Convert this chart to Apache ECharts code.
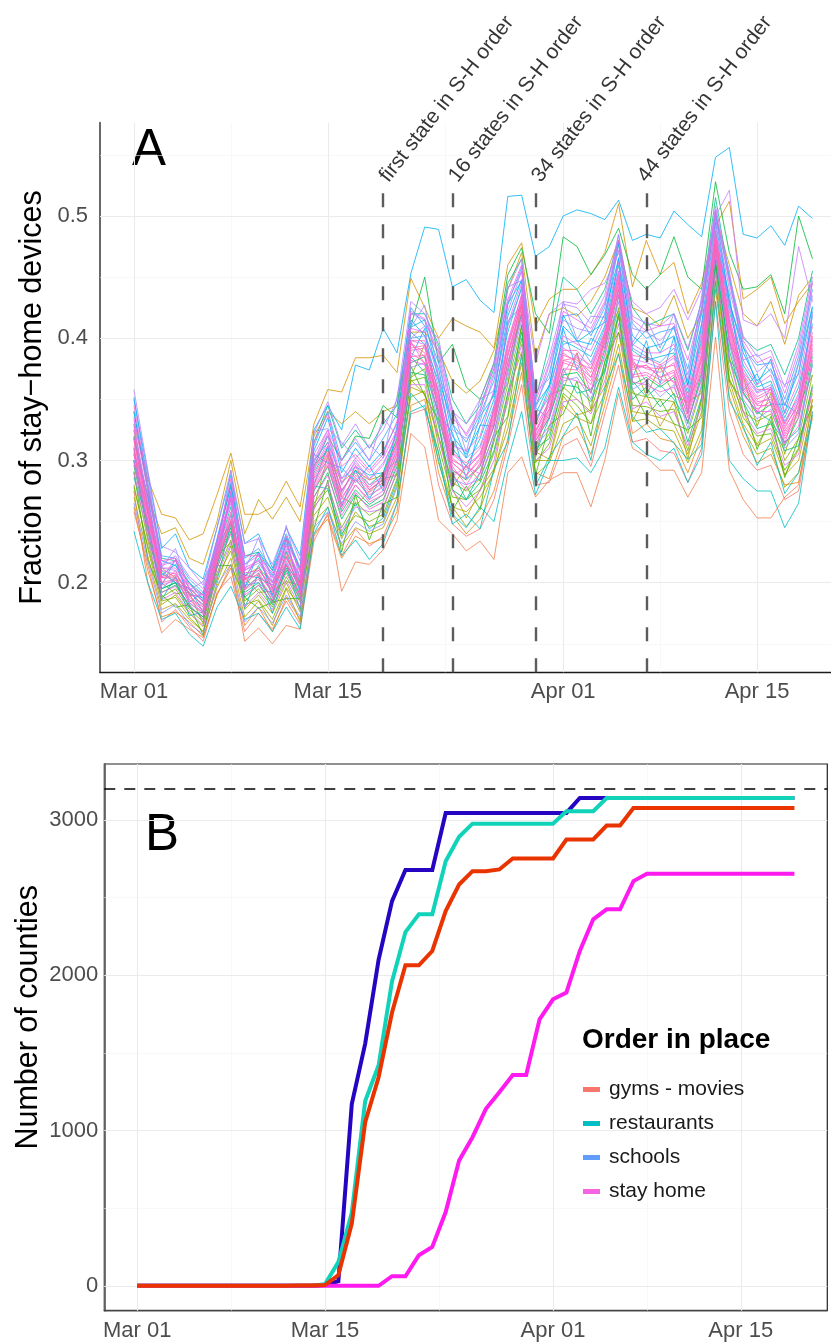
<!DOCTYPE html>
<html>
<head>
<meta charset="utf-8">
<script src="https://cdn.jsdelivr.net/npm/echarts@6/dist/echarts.min.js"></script>
<style>
html,body{margin:0;padding:0;background:#fff;}
#chart{width:831px;height:1343px;}
</style>
</head>
<body>
<div id="chart"></div>
<script>
// days since 2020-03-01
const dayNumbers = [0,1,2,3,4,5,6,7,8,9,10,11,12,13,14,15,16,17,18,19,20,21,22,23,24,25,26,27,28,29,30,31,32,33,34,35,36,37,38,39,40,41,42,43,44,45,46,47,48,49];
const tickDays = [0,14,31,45];
const tickLabels = ['Mar 01','Mar 15','Apr 01','Apr 15'];
const minorDays = [7,22.5,38];
const yTicksA = [0.2,0.3,0.4,0.5];
const yMinorA = [0.15,0.25,0.35,0.45,0.55];
const yTicksB = [0,1000,2000,3000];
const yMinorB = [500,1500,2500];
const eventDays = [18,23,29,37];
const eventLabels = ['first state in S-H order','16 states in S-H order','34 states in S-H order','44 states in S-H order'];
const totalCounties = 3200;

// Panel A: fraction of stay-home devices per state
const s01 = [.258,.215,.168,.178,.164,.152,.192,.205,.160,.175,.162,.185,.166,.238,.255,.222,.244,.230,.238,.265,.338,.342,.280,.248,.238,.244,.268,.312,.362,.280,.282,.312,.318,.295,.338,.378,.315,.318,.308,.306,.282,.310,.430,.340,.305,.292,.296,.268,.275,.340];
const s02 = [.275,.200,.159,.170,.162,.155,.190,.215,.152,.163,.150,.165,.162,.234,.257,.193,.217,.215,.227,.251,.322,.311,.251,.240,.226,.234,.219,.290,.303,.270,.284,.290,.290,.262,.300,.355,.310,.303,.292,.292,.270,.290,.401,.292,.268,.253,.253,.270,.280,.350];
const s03 = [.262,.210,.172,.176,.168,.156,.190,.212,.165,.180,.160,.188,.170,.240,.252,.220,.238,.232,.236,.258,.345,.350,.290,.255,.240,.252,.275,.318,.372,.290,.285,.320,.328,.305,.345,.388,.322,.330,.318,.315,.290,.320,.440,.352,.320,.298,.305,.280,.282,.335];
const s04 = [.330,.285,.256,.253,.235,.240,.272,.306,.256,.256,.262,.283,.262,.330,.358,.356,.384,.384,.386,.372,.449,.425,.400,.416,.410,.405,.392,.460,.478,.410,.432,.440,.440,.452,.470,.510,.442,.480,.452,.462,.420,.445,.492,.512,.432,.440,.450,.412,.430,.445];
const s05 = [.320,.270,.240,.245,.220,.215,.250,.300,.240,.268,.252,.270,.250,.320,.340,.330,.340,.330,.340,.345,.405,.405,.390,.365,.355,.365,.390,.440,.470,.385,.420,.425,.418,.430,.450,.480,.425,.420,.410,.435,.400,.420,.500,.460,.420,.410,.430,.395,.435,.450];
const s06 = [.270,.222,.178,.183,.170,.160,.196,.220,.172,.185,.165,.195,.168,.250,.262,.230,.245,.240,.245,.270,.360,.355,.305,.262,.258,.270,.290,.335,.385,.300,.300,.345,.335,.330,.355,.405,.340,.338,.335,.330,.305,.340,.452,.365,.330,.312,.318,.288,.300,.350];
const s07 = [.280,.228,.182,.190,.175,.164,.205,.226,.178,.190,.175,.200,.176,.255,.270,.236,.258,.246,.250,.280,.352,.357,.298,.262,.246,.260,.292,.326,.380,.288,.298,.330,.336,.312,.352,.395,.332,.334,.326,.324,.298,.325,.445,.360,.326,.305,.310,.278,.290,.345];
const s08 = [.290,.235,.185,.188,.172,.160,.200,.230,.182,.186,.170,.196,.180,.262,.276,.240,.255,.250,.256,.285,.368,.375,.320,.282,.275,.285,.315,.362,.410,.305,.322,.360,.350,.340,.380,.425,.355,.352,.350,.348,.322,.360,.465,.385,.340,.332,.338,.300,.318,.370];
const s09 = [.278,.230,.188,.195,.178,.168,.208,.235,.185,.195,.180,.205,.184,.265,.280,.245,.266,.255,.262,.290,.365,.368,.312,.270,.268,.276,.306,.348,.400,.298,.314,.355,.345,.330,.372,.418,.345,.344,.340,.342,.308,.350,.458,.375,.335,.320,.322,.292,.310,.362];
const s10 = [.300,.245,.195,.200,.180,.172,.215,.250,.195,.205,.185,.215,.190,.295,.320,.300,.320,.318,.345,.335,.410,.450,.380,.395,.360,.350,.380,.452,.474,.420,.404,.483,.475,.452,.468,.490,.452,.440,.452,.483,.450,.440,.528,.470,.440,.442,.452,.420,.500,.465];
const s11 = [.296,.242,.192,.198,.182,.170,.212,.242,.188,.198,.184,.210,.186,.270,.290,.252,.272,.262,.268,.295,.380,.385,.335,.292,.284,.295,.328,.380,.420,.316,.335,.370,.372,.355,.390,.440,.362,.368,.360,.368,.330,.372,.472,.398,.356,.338,.346,.312,.335,.385];
const s12 = [.300,.248,.195,.200,.180,.172,.215,.245,.192,.200,.182,.212,.188,.275,.295,.258,.276,.264,.272,.300,.372,.370,.328,.276,.268,.282,.308,.355,.405,.310,.318,.362,.360,.348,.375,.420,.350,.360,.344,.355,.315,.352,.460,.390,.348,.326,.330,.308,.312,.360];
const s13 = [.340,.275,.220,.218,.200,.190,.232,.280,.222,.225,.210,.238,.212,.315,.345,.310,.325,.310,.330,.345,.420,.420,.395,.350,.330,.345,.375,.445,.465,.350,.395,.450,.440,.420,.440,.480,.425,.410,.415,.420,.390,.430,.515,.450,.400,.390,.395,.370,.400,.455];
const s14 = [.320,.262,.208,.200,.192,.182,.225,.262,.196,.214,.190,.225,.192,.290,.310,.275,.292,.280,.290,.318,.385,.372,.340,.290,.268,.290,.322,.372,.420,.305,.335,.375,.355,.358,.372,.435,.365,.352,.362,.350,.332,.368,.470,.382,.355,.340,.332,.315,.325,.378];
const s15 = [.242,.200,.170,.175,.158,.148,.180,.197,.170,.175,.160,.180,.162,.240,.262,.222,.235,.219,.232,.265,.340,.345,.300,.256,.245,.262,.250,.300,.340,.272,.300,.300,.302,.290,.310,.360,.315,.305,.300,.310,.282,.305,.430,.300,.285,.275,.275,.245,.265,.340];
const s16 = [.318,.270,.206,.215,.190,.188,.222,.272,.205,.220,.195,.232,.200,.300,.315,.285,.295,.288,.290,.325,.405,.395,.365,.310,.295,.318,.350,.405,.442,.330,.360,.398,.392,.385,.410,.460,.390,.382,.385,.388,.355,.398,.488,.422,.378,.360,.365,.335,.360,.412];
const s17 = [.350,.290,.228,.240,.212,.203,.245,.288,.232,.240,.212,.245,.222,.325,.345,.325,.378,.374,.408,.388,.453,.491,.489,.442,.448,.431,.421,.516,.517,.467,.475,.500,.505,.502,.497,.513,.480,.485,.482,.504,.493,.483,.548,.556,.485,.482,.492,.476,.508,.498];
const s18 = [.340,.278,.218,.214,.200,.186,.235,.278,.215,.225,.206,.236,.210,.308,.335,.290,.310,.295,.308,.330,.415,.402,.375,.320,.305,.328,.355,.418,.448,.338,.362,.410,.398,.395,.420,.465,.402,.392,.395,.402,.362,.412,.495,.430,.388,.365,.375,.345,.372,.425];
const s19 = [.352,.282,.222,.220,.203,.192,.236,.282,.220,.228,.210,.240,.212,.312,.340,.300,.315,.300,.318,.338,.425,.410,.380,.330,.315,.338,.365,.428,.458,.345,.372,.418,.420,.402,.425,.478,.412,.400,.405,.408,.375,.425,.502,.448,.392,.378,.380,.350,.385,.440];
const s20 = [.310,.245,.195,.205,.183,.176,.220,.255,.198,.200,.190,.218,.194,.285,.300,.265,.285,.270,.280,.310,.400,.402,.360,.315,.302,.312,.345,.410,.440,.334,.352,.395,.398,.380,.408,.455,.392,.385,.380,.392,.350,.402,.485,.428,.375,.356,.362,.332,.352,.418];
const s21 = [.265,.218,.175,.182,.166,.158,.198,.215,.168,.180,.167,.190,.172,.245,.258,.232,.250,.242,.248,.278,.376,.380,.330,.285,.280,.285,.318,.368,.415,.312,.325,.365,.368,.350,.385,.430,.358,.365,.352,.362,.326,.362,.468,.395,.350,.334,.342,.310,.322,.380];
const s22 = [.330,.265,.212,.210,.196,.184,.230,.265,.210,.216,.200,.228,.205,.295,.320,.280,.300,.285,.298,.320,.420,.415,.385,.325,.318,.332,.370,.422,.455,.342,.378,.415,.408,.405,.428,.472,.408,.405,.398,.410,.370,.420,.498,.440,.395,.372,.382,.345,.380,.435];
const s23 = [.300,.250,.215,.222,.205,.195,.235,.268,.215,.222,.205,.232,.212,.300,.325,.300,.318,.300,.335,.320,.400,.410,.400,.340,.320,.340,.380,.430,.455,.380,.420,.430,.428,.440,.445,.470,.430,.420,.425,.440,.415,.440,.500,.521,.415,.410,.420,.400,.475,.430];
const s24 = [.358,.292,.230,.225,.212,.198,.245,.292,.232,.236,.215,.245,.218,.322,.348,.312,.330,.310,.325,.350,.430,.420,.392,.340,.330,.350,.378,.440,.465,.352,.385,.428,.425,.412,.435,.485,.418,.412,.410,.420,.392,.430,.508,.452,.402,.385,.390,.360,.395,.450];
const s25 = [.290,.238,.186,.192,.176,.165,.206,.232,.180,.192,.178,.202,.180,.260,.282,.242,.262,.258,.260,.292,.398,.395,.356,.305,.296,.305,.342,.398,.435,.322,.350,.392,.385,.378,.405,.454,.383,.380,.376,.384,.348,.392,.484,.418,.370,.355,.360,.330,.350,.405];
const s26 = [.325,.260,.210,.207,.194,.180,.224,.268,.208,.210,.198,.222,.202,.292,.312,.272,.296,.280,.286,.315,.362,.362,.318,.275,.262,.275,.300,.352,.395,.300,.310,.348,.350,.338,.365,.412,.342,.348,.336,.340,.312,.345,.455,.382,.340,.322,.326,.296,.305,.358];
const s27 = [.335,.275,.214,.218,.195,.190,.228,.275,.212,.218,.204,.230,.204,.305,.325,.285,.302,.290,.302,.325,.408,.405,.368,.312,.308,.320,.358,.412,.445,.330,.356,.402,.395,.390,.415,.462,.395,.388,.388,.395,.358,.405,.492,.425,.382,.362,.370,.338,.365,.420];
const s28 = [.328,.268,.212,.212,.196,.185,.228,.270,.210,.218,.200,.226,.204,.298,.322,.282,.298,.284,.296,.322,.422,.416,.388,.335,.322,.342,.372,.432,.460,.348,.380,.422,.415,.408,.430,.480,.415,.406,.410,.412,.382,.425,.505,.445,.398,.380,.385,.355,.390,.445];
const s29 = [.305,.250,.198,.202,.186,.175,.218,.250,.195,.205,.188,.215,.190,.278,.298,.262,.280,.268,.275,.305,.390,.392,.352,.302,.292,.306,.338,.392,.432,.325,.345,.388,.380,.375,.402,.450,.380,.375,.372,.380,.346,.388,.482,.410,.368,.352,.358,.328,.345,.398];
const s30 = [.298,.244,.192,.197,.181,.170,.212,.240,.190,.198,.184,.208,.186,.270,.288,.255,.274,.260,.266,.298,.382,.378,.338,.288,.276,.290,.322,.375,.418,.314,.328,.368,.365,.358,.386,.435,.364,.362,.356,.360,.332,.366,.470,.398,.354,.340,.340,.314,.328,.382];
const s31 = [.345,.280,.218,.220,.198,.190,.232,.285,.222,.222,.208,.238,.208,.315,.338,.295,.305,.292,.305,.332,.395,.385,.350,.298,.288,.302,.334,.388,.428,.320,.342,.382,.378,.368,.398,.445,.374,.378,.368,.372,.342,.382,.478,.412,.364,.348,.350,.324,.342,.395];
const s32 = [.312,.256,.200,.210,.186,.178,.226,.258,.202,.212,.193,.220,.198,.282,.305,.268,.288,.276,.284,.312,.388,.380,.345,.295,.280,.298,.330,.385,.425,.318,.338,.380,.376,.365,.395,.442,.370,.372,.366,.365,.338,.378,.476,.405,.360,.345,.345,.320,.338,.390];
const s33 = [.308,.252,.200,.203,.184,.174,.216,.248,.194,.203,.186,.214,.190,.276,.296,.260,.280,.266,.272,.302,.385,.386,.342,.292,.285,.296,.328,.380,.422,.316,.336,.375,.374,.362,.392,.440,.368,.370,.362,.370,.335,.375,.474,.402,.358,.342,.348,.318,.335,.392];
const s34 = [.316,.262,.204,.206,.192,.182,.222,.256,.202,.210,.196,.222,.196,.288,.308,.276,.290,.278,.288,.314,.398,.398,.355,.306,.298,.310,.340,.395,.436,.328,.348,.390,.390,.375,.404,.452,.386,.384,.378,.386,.352,.395,.486,.415,.372,.358,.358,.330,.355,.410];
const s35 = [.305,.258,.205,.208,.190,.176,.218,.250,.204,.206,.194,.216,.196,.280,.302,.264,.284,.272,.278,.306,.396,.388,.346,.298,.288,.300,.332,.386,.428,.320,.340,.382,.384,.368,.396,.446,.376,.378,.368,.374,.340,.384,.479,.408,.362,.346,.352,.322,.340,.402];
const s36 = [.318,.256,.204,.204,.188,.180,.220,.252,.200,.208,.192,.221,.198,.286,.306,.270,.286,.274,.282,.308,.392,.394,.348,.300,.294,.304,.336,.394,.430,.324,.342,.386,.382,.372,.400,.448,.378,.376,.375,.378,.344,.386,.481,.414,.366,.350,.356,.326,.348,.400];
const s37 = [.325,.262,.212,.204,.195,.185,.228,.268,.206,.212,.200,.226,.200,.296,.308,.282,.292,.284,.288,.318,.366,.354,.319,.277,.253,.276,.293,.355,.389,.307,.301,.353,.337,.341,.360,.419,.332,.354,.328,.348,.301,.350,.459,.367,.340,.313,.332,.288,.309,.355];
const s38 = [.291,.219,.190,.180,.182,.157,.214,.214,.188,.179,.184,.187,.187,.244,.284,.225,.272,.235,.264,.270,.377,.353,.333,.259,.279,.260,.319,.336,.411,.288,.329,.338,.365,.320,.381,.405,.358,.336,.350,.330,.325,.335,.464,.365,.348,.309,.336,.286,.318,.345];
const s39 = [.286,.250,.186,.205,.173,.176,.202,.248,.179,.208,.175,.215,.178,.279,.277,.238,.265,.244,.253,.283,.355,.342,.307,.248,.256,.244,.293,.315,.387,.279,.303,.320,.339,.300,.359,.387,.336,.323,.326,.314,.301,.313,.447,.349,.328,.296,.315,.273,.290,.337];
const s40 = [.300,.258,.210,.200,.195,.176,.228,.250,.206,.204,.198,.214,.200,.280,.312,.262,.292,.268,.290,.300,.409,.415,.367,.330,.302,.336,.353,.428,.447,.345,.361,.419,.397,.405,.413,.477,.394,.407,.388,.410,.361,.422,.504,.429,.393,.362,.383,.339,.379,.426];
const s41 = [.306,.272,.198,.219,.184,.192,.214,.275,.196,.225,.188,.236,.193,.305,.298,.294,.282,.296,.275,.328,.384,.408,.338,.323,.285,.329,.328,.414,.426,.343,.334,.408,.374,.400,.392,.466,.367,.398,.363,.401,.338,.411,.476,.436,.357,.371,.346,.346,.338,.422];
const s42 = [.333,.289,.212,.228,.194,.201,.226,.292,.210,.237,.200,.247,.203,.324,.326,.315,.302,.313,.302,.352,.409,.427,.369,.343,.307,.350,.357,.442,.447,.356,.367,.430,.399,.418,.417,.485,.396,.416,.392,.420,.365,.435,.498,.455,.382,.387,.372,.362,.370,.447];
const s43 = [.310,.237,.200,.191,.192,.166,.222,.233,.204,.192,.193,.201,.198,.261,.304,.270,.263,.275,.285,.288,.368,.395,.356,.278,.296,.283,.344,.363,.428,.302,.354,.358,.388,.342,.402,.422,.381,.353,.377,.353,.348,.355,.479,.382,.369,.328,.355,.305,.344,.370];
const s44 = [.318,.262,.204,.219,.189,.190,.220,.274,.203,.224,.195,.235,.196,.293,.315,.274,.295,.276,.285,.315,.397,.379,.356,.287,.295,.289,.344,.375,.434,.309,.350,.371,.388,.355,.405,.436,.383,.364,.379,.363,.350,.370,.483,.398,.372,.339,.360,.314,.349,.387];
const stateSeries = [s01,s02,s03,s04,s05,s06,s37,s07,s43,s08,s09,s38,s10,s11,s12,s13,s14,s39,s15,s16,s40,s17,s18,s41,s19,s20,s21,s42,s22,s23,s24,s25,s26,s27,s28,s29,s44,s30,s31,s32,s33,s34,s35,s36];
const stateColors = ['#F8766D','#F07E4D','#E7861B','#D89000','#C99800','#B79F00','#AEA200','#A3A500','#95A900','#8BAB00','#6BB100','#39B600','#00BA38','#00BC5A','#00BE70','#00C08B','#00C1A3','#00C0B4','#00BFC4','#00BCD8','#00B8E3','#00B0F6','#00A9FF','#1AA6FF','#35A2FF','#619CFF','#8B93FF','#9590FF','#A58AFF','#C77CFF','#B983FF','#D874FD','#DF70F8','#E76BF3','#EF67EB','#F564E3','#F763E0','#F962DC','#FC61D5','#FF61CC','#FF61C3','#FF62BC','#FF63B6','#FF64B0'];

// Panel B: number of counties with order in place
const orderNames = ['gyms - movies','restaurants','schools','stay home'];
const gymsMovies = [0,0,0,0,0,0,0,0,0,0,0,0,3,3,5,69,400,1054,1343,1760,2064,2064,2156,2413,2584,2670,2670,2681,2752,2752,2752,2752,2874,2874,2874,2964,2964,3077,3077,3077,3077,3077,3077,3077,3077,3077,3077,3077,3077,3077];
const restaurants = [0,0,0,0,0,0,0,0,0,0,0,0,0,0,10,154,470,1190,1420,1960,2278,2392,2392,2734,2891,2976,2976,2976,2976,2976,2976,2976,3056,3056,3056,3141,3141,3141,3141,3141,3141,3141,3141,3141,3141,3141,3141,3141,3141,3141];
const schools = [0,0,0,0,0,0,0,0,0,0,0,0,0,0,5,30,1170,1560,2100,2477,2677,2677,2677,3045,3045,3045,3045,3045,3045,3045,3045,3045,3045,3141,3141,3141,3141,3141,3141,3141,3141,3141,3141,3141,3141,3141,3141,3141,3141,3141];
const stayHome = [0,0,0,0,0,0,0,0,0,0,0,0,0,0,0,0,0,0,0,62,62,197,251,475,807,957,1140,1247,1358,1358,1716,1845,1888,2156,2360,2424,2424,2606,2653,2653,2653,2653,2653,2653,2653,2653,2653,2653,2653,2653];
const lineColors = {'gyms - movies':'#EA3400','restaurants':'#11D3BA','schools':'#2605C2','stay home':'#FF1AF0'};
const legendColors = {'gyms - movies':'#F8766D','restaurants':'#00BFC4','schools':'#619CFF','stay home':'#F564E3'};

const FONT = 'Liberation Sans, Arial, Helvetica, sans-serif';
const majorGrid = {color:'#ebebeb', width:1.1, type:'solid'};
const minorGrid = {color:'#f3f3f3', width:0.6, type:'solid'};

function gridLines(xi, majX, minX, majY, minY) {
  return {
    type:'line', xAxisIndex:xi, yAxisIndex:xi, data:[], silent:true, z:1,
    markLine:{
      silent:true, z:1, symbol:['none','none'], animation:false, label:{show:false},
      emphasis:{disabled:true},
      data:[].concat(
        minX.map(d=>({xAxis:d, lineStyle:minorGrid})),
        minY.map(v=>({yAxis:v, lineStyle:minorGrid})),
        majX.map(d=>({xAxis:d, lineStyle:majorGrid})),
        majY.map(v=>({yAxis:v, lineStyle:majorGrid}))
      )
    }
  };
}

const chart = echarts.init(document.getElementById('chart'), null, {renderer:'canvas'});
const series = [];
series.push(gridLines(0, tickDays, minorDays, yTicksA, yMinorA));
series.push(gridLines(1, tickDays, minorDays, yTicksB, yMinorB));

stateSeries.forEach((arr, i) => {
  series.push({
    type:'line', xAxisIndex:0, yAxisIndex:0, silent:true, z:2,
    data: dayNumbers.map((d, j) => [d, arr[j]]),
    symbol:'none', showSymbol:false,
    lineStyle:{width:0.8, color:stateColors[i]},
    itemStyle:{color:stateColors[i]},
    emphasis:{disabled:true}
  });
});

// event dashed lines
series.push({
  type:'line', xAxisIndex:0, yAxisIndex:0, data:[], silent:true, z:4,
  markLine:{
    silent:true, z:4, symbol:['none','none'], animation:false, label:{show:false},
    lineStyle:{color:'#5c5c5c', width:2.4, type:[14,17]},
    data: eventDays.map(d => [{coord:[d, 0.1267]}, {coord:[d, 0.521]}])
  }
});
// event labels
series.push({
  type:'scatter', xAxisIndex:0, yAxisIndex:0, silent:true, z:6, symbolSize:0,
  data: eventDays.map((d, i) => ({
    value:[d, 0.526],
    label:{show:true, formatter:eventLabels[i], rotate:52, position:[i === 3 ? 4 : 9, 2],
      align:'left', verticalAlign:'bottom', fontSize:21, color:'#000', fontFamily:FONT}
  }))
});

const bData = {'gyms - movies':gymsMovies, 'restaurants':restaurants, 'schools':schools, 'stay home':stayHome};
['schools','restaurants','stay home','gyms - movies'].forEach(name => {
  series.push({
    name:name, type:'line', xAxisIndex:1, yAxisIndex:1, silent:true, z:3,
    data: dayNumbers.map((d, j) => [d, bData[name][j]]),
    symbol:'none', showSymbol:false,
    lineStyle:{width:4, color:lineColors[name], join:'miter'},
    itemStyle:{color:lineColors[name]},
    emphasis:{disabled:true}
  });
});
// total counties dashed line
series.push({
  type:'line', xAxisIndex:1, yAxisIndex:1, data:[], silent:true, z:4,
  markLine:{
    silent:true, z:4, symbol:['none','none'], animation:false, label:{show:false},
    lineStyle:{color:'#000', width:1.5, type:[11,9]},
    data:[{yAxis:totalCounties}]
  }
});

const tickLabelStyle = {fontSize:22, color:'#4d4d4d', fontFamily:FONT};

const option = {
  animation:false,
  backgroundColor:'#fff',
  textStyle:{fontFamily:FONT},
  grid:[
    {left:100, right:0, top:122.7, height:549.6, containLabel:false, outerBoundsMode:'none'},
    {left:104.3, right:3.7, top:764, bottom:32.3, containLabel:false, outerBoundsMode:'none', show:true, borderColor:'#222', borderWidth:1.2, backgroundColor:'transparent'}
  ],
  xAxis:[
    {type:'value', gridIndex:0, min:-2.45, max:50.34,
      axisLine:{show:true, onZero:false, lineStyle:{color:'#1a1a1a', width:1.3}},
      axisTick:{show:false}, splitLine:{show:false}, minorSplitLine:{show:false},
      axisLabel:Object.assign({customValues:tickDays, margin:9, formatter:v => tickLabels[tickDays.indexOf(v)]}, tickLabelStyle)},
    {type:'value', gridIndex:1, min:-2.45, max:51.45,
      axisLine:{show:true, onZero:false, lineStyle:{color:'#444', width:1.3}},
      axisTick:{show:false}, splitLine:{show:false},
      axisLabel:Object.assign({customValues:tickDays, margin:9, formatter:v => tickLabels[tickDays.indexOf(v)]}, tickLabelStyle)}
  ],
  yAxis:[
    {type:'value', gridIndex:0, min:0.1267, max:0.5763,
      axisLine:{show:true, onZero:false, lineStyle:{color:'#595959', width:1.8}},
      axisTick:{show:false}, splitLine:{show:false},
      axisLabel:Object.assign({customValues:yTicksA, margin:12, formatter:v => v.toFixed(1)}, tickLabelStyle),
      name:'Fraction of stay\u2212home devices', nameLocation:'middle', nameGap:52, nameMoveOverlap:false,
      nameTextStyle:{fontSize:30.5, color:'#000', fontFamily:FONT}},
    {type:'value', gridIndex:1, min:-160, max:3360,
      axisLine:{show:true, onZero:false, lineStyle:{color:'#666', width:1.8}},
      axisTick:{show:false}, splitLine:{show:false},
      axisLabel:Object.assign({customValues:yTicksB, margin:6, formatter:v => String(v)}, tickLabelStyle),
      name:'Number of counties', nameLocation:'middle', nameGap:60, nameMoveOverlap:false,
      nameTextStyle:{fontSize:30.5, color:'#000', fontFamily:FONT, padding:[0,0,0,40]}}
  ],
  title:{text:'Order in place', left:582, top:1026, padding:0,
    textStyle:{fontSize:28, fontWeight:'bold', color:'#000', fontFamily:FONT}},
  legend:{show:true, orient:'vertical', left:583, top:1079, padding:0, itemGap:13,
    itemWidth:17, itemHeight:5, icon:'rect', selectedMode:false,
    textStyle:{fontSize:21, color:'#1a1a1a', lineHeight:20, fontFamily:FONT, padding:[0,0,0,4]},
    data: orderNames.map(n => ({name:n, icon:'rect', itemStyle:{color:legendColors[n]}, lineStyle:{color:legendColors[n]}}))
  },
  graphic:[
    {type:'text', left:132, top:125, silent:true, style:{text:'A', fontSize:51, fontFamily:FONT, fill:'#000'}},
    {type:'text', left:145, top:810, silent:true, style:{text:'B', fontSize:51, fontFamily:FONT, fill:'#000'}}
  ],
  series:series
};
chart.setOption(option);
</script>
</body>
</html>
